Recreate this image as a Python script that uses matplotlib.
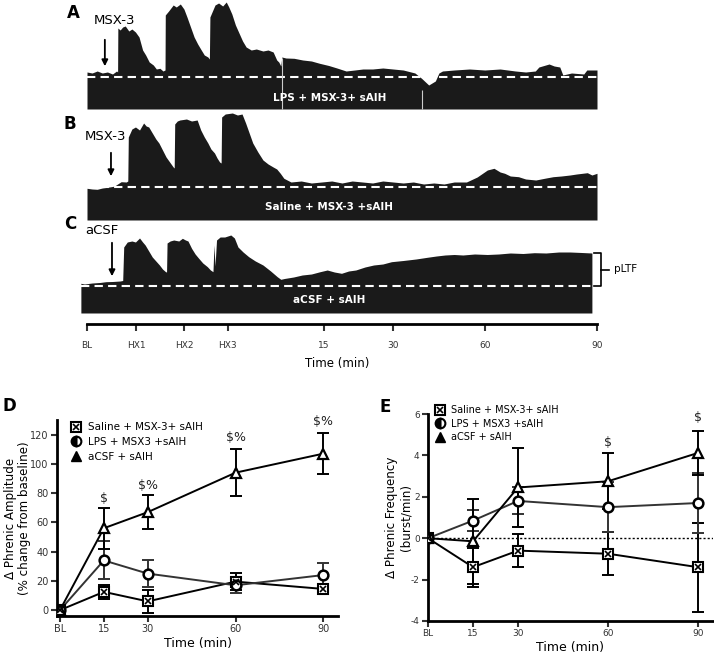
import matplotlib
matplotlib.use('Agg')
import matplotlib.pyplot as plt
from matplotlib.lines import Line2D

W, H = 714, 656
plt.rcParams['axes.unicode_minus'] = False

# ---- raw phrenic traces: x = % of recording (BL..90 min), y = px above baseline ----
trace_a_x = [0, 1, 2, 3, 4, 5, 5.8, 6.0, 6.05, 6.5, 7.0, 7.5, 8.2, 8.8, 9.5, 10.2, 10.9, 11.5, 12.2, 13.0,
             13.6, 14.3, 14.9, 15.3, 15.35, 16.0, 16.9, 17.5, 18.3, 19.0, 19.6, 20.3, 21.0, 21.7, 22.4,
             23.0, 23.7, 24.0, 24.1, 24.6, 25.1, 25.8, 26.6, 27.3, 27.8, 28.4, 29.1, 29.8, 30.5, 31.2,
             32.2, 33.2, 34.5, 35.5, 36.5, 37.2, 37.6, 38.0, 38.2, 39.0, 40.6, 42.3, 44.0, 45.6, 47.4,
             49.0, 50.8, 52.5, 54.1, 56, 58, 60, 62, 64.3, 65.6, 67.0, 68.3, 69.0, 69.7, 72, 75, 78, 81,
             84, 86, 87.9, 88.6, 90.6, 91.6, 92.7, 93.3, 95, 97.4, 98, 100]
trace_a_y = [5, 4, 6, 4, 5, 3, 6, 5, 49, 47, 50, 51, 46, 48, 45, 40, 27, 22, 15, 12,
             8, 8.7, 6, 7, 62, 66, 72, 70, 73, 68, 60, 50, 40, 33, 27,
             22, 20, 18, 60, 66, 72, 74, 71, 75, 70, 63, 52, 44, 36, 30,
             27, 28, 26, 27, 25, 17, 15, 11, 20, 19, 18.7, 17, 16, 13.7, 11.5,
             9, 6, 7, 8, 8, 9, 8, 7, 4, -1.3, -8, -4, 4, 6, 7, 8, 7, 8,
             6, 5, 6, 10, 13, 11, 10, 2, 4, 3, 7, 7]

trace_b_x = [0, 1, 2, 3, 4, 5, 5.4, 6.0, 6.7, 7.7, 8.0, 8.1, 8.8, 9.5, 10.3, 11.1, 11.6, 12.1, 12.8, 13.5,
             14.1, 14.8, 15.5, 16.2, 16.9, 17.1, 17.2, 17.7, 18.2, 19.5, 20.5, 21.6, 22.3, 23.0, 23.7,
             24.3, 25.0, 25.5, 26.0, 26.3, 26.4, 27.1, 28.5, 29.5, 30.4, 31.1, 31.8, 32.5, 33.5, 34.5,
             35.5, 36.5, 37.2, 37.9, 38.6, 40, 42, 44, 46, 48, 50, 52, 54, 56, 58, 60, 62, 64, 66, 68,
             70, 72, 74.4, 76.5, 78.5, 79.8, 81, 81.9, 83, 84.6, 86, 88.0, 90, 91.4, 93, 94.7, 96, 98.1,
             99, 100]
trace_b_y = [-1.3, -2, -2.3, -1, -0.3, 0.5, 1, 3, 5.3, 5, 6, 50, 58, 60, 57, 64, 61, 60, 54, 48,
             44, 37, 30, 25, 20, 19, 63, 66, 67, 68, 66, 67, 57, 50, 44,
             38, 34, 29, 25, 24, 70, 73, 74, 72, 73, 64, 54, 44, 35, 27,
             23, 20, 18, 13.7, 8.7, 5, 6, 4, 5, 6, 4, 6, 5, 4, 6, 5, 4, 5, 3, 4,
             3, 5, 5, 10, 17, 18.7, 15, 13.7, 11, 10.3, 8, 7, 9, 10.3, 11, 12, 13, 14.3,
             12, 13.7]

trace_c_x = [-1.2, -0.5, 1, 2.5, 3.7, 5, 6.5, 7.0, 7.2, 7.9, 8.8, 9.5, 10.3, 10.9, 11.4, 12.1, 12.8, 13.5,
             14.2, 14.8, 15.4, 15.6, 15.7, 16.3, 17.0, 18.0, 18.7, 19.3, 19.8, 20.5, 21.2, 21.9, 22.7,
             23.6, 24.2, 24.7, 24.9, 25.1, 25.4, 26.1, 27.0, 28.2, 28.9, 29.6, 30.6, 31.7, 33.0, 34.5,
             36.0, 37.3, 38.0, 38.7, 40.5, 42.2, 44, 45.7, 47.1, 48.5, 49.9, 51.3, 52.7, 54.5, 56.2, 58,
             59.7, 62, 64.5, 66.7, 68.5, 70.2, 72, 73.7, 76, 78.5, 80.7, 83, 85.5, 87.7, 90, 92.5, 94.7,
             97, 99.0]
trace_c_y = [2.7, 2, 3, 3.5, 4.3, 4.5, 5, 5.5, 39, 44, 45, 44, 48, 44, 41, 35, 29, 25,
             21, 17, 14.3, 14, 43, 45, 46, 45, 47.7, 46, 45, 37.7, 32, 27.7, 23,
             19.3, 16, 14.3, 41, 20, 46, 49, 49, 51, 48, 39, 34, 29.3, 25, 21,
             15, 9.3, 6.7, 7.5, 9, 11, 12, 14.3, 16, 14, 12.7, 15, 16, 19, 21, 22,
             24.3, 25.5, 27, 28.7, 30, 31, 31.5, 31, 32, 31.5, 32, 33, 32.5, 33.3, 33, 34, 34,
             33.5, 33]

trace_ticks = [0, 9.6, 19.0, 27.6, 46.5, 60.0, 78.0, 100]
trace_tick_labels = ['BL', 'HX1', 'HX2', 'HX3', '15', '30', '60', '90']

# ---- summary data ----
time_pts = [0, 15, 30, 60, 90]
time_labels = ['BL', '15', '30', '60', '90']
groups = ['Saline + MSX-3+ sAIH', 'LPS + MSX3 +sAIH', 'aCSF + sAIH']

saline_amp = [0, 12.5, 6, 19.5, 14.5]
saline_amp_err = [0, 5, 8, 6, 3]
lps_amp = [0, 34, 25, 17, 24]
lps_amp_err = [0, 13, 9, 5, 8]
acsf_amp = [0, 56, 67, 94, 107]
acsf_amp_err = [0, 14, 11.5, 16, 14]
amp_sig = ['', '$', '$%', '$%', '$%']
amp_sig_y = [0, 76, 85.5, 118, 129]

saline_freq = [0, -1.4, -0.6, -0.75, -1.4]
saline_freq_err = [0, 0.95, 0.8, 1.05, 2.15]
lps_freq = [0, 0.85, 1.8, 1.5, 1.7]
lps_freq_err = [0, 0.5, 0.65, 1.2, 1.45]
acsf_freq = [0, -0.15, 2.45, 2.75, 4.12]
acsf_freq_err = [0, 2.05, 1.9, 1.35, 1.05]
freq_sig = ['', '', '', '$', '$']
freq_sig_y = [0, 0, 0, 4.6, 5.85]


def px_axes(fig, left, top, right, bottom):
    """Add axes placed by pixel box."""
    return fig.add_axes([left / W, 1 - bottom / H, (right - left) / W, (bottom - top) / H])


def draw_trace(ax, x, y, floor, ylim, block_label, label_y):
    ax.fill_between(x, floor, y, color='#1a1a1a', lw=0)
    ax.hlines(0, x[0], x[-1], colors='white', linestyles=(0, (4, 2.5)), lw=1.5)
    ax.text(47.5, label_y, block_label, color='white', fontsize=7.5, fontweight='bold',
            ha='center', va='center')
    ax.set_xlim(-2, 100)
    ax.set_ylim(*ylim)
    ax.axis('off')


def drug_arrow(ax, x, y0, y1, label, label_x, label_y):
    ax.annotate('', xy=(x, y1), xytext=(x, y0),
                arrowprops=dict(arrowstyle='-|>', color='black', lw=1.3, mutation_scale=9))
    ax.text(label_x, label_y, label, fontsize=9.5, ha='center', va='center')


def summary_panel(ax, series, errs, sig, sig_y, ylim, yticks, ylabel, tick_size):
    colors = ['black', '#333333', 'black']
    for vals, err, c in zip(series, errs, colors):
        ax.errorbar(time_pts, vals, yerr=err, color=c, lw=1.4, capsize=4, capthick=1.4,
                    elinewidth=1.4, zorder=2)
    ax.plot(time_pts, series[0], ls='none', marker='s', ms=7, mfc='white', mec='black', mew=1.5, zorder=3)
    ax.plot(time_pts, series[0], ls='none', marker='x', ms=4.5, mec='black', mew=1.2, zorder=4)
    ax.plot(time_pts, series[1], ls='none', marker='o', ms=7, mfc='white', mec='black', mew=1.8, zorder=3)
    ax.plot(time_pts, series[2], ls='none', marker='^', ms=7.5, mfc='white', mec='black', mew=1.6, zorder=3)
    for t, s, yy in zip(time_pts, sig, sig_y):
        if s:
            ax.text(t, yy, s.replace('$', r'\$'), ha='center', va='center', fontsize=9, color='#222222')
    ax.set_ylim(*ylim)
    ax.set_yticks(yticks)
    ax.set_xticks(time_pts)
    ax.set_xticklabels(time_labels)
    ax.spines['top'].set_visible(False)
    ax.spines['right'].set_visible(False)
    for side in ['left', 'bottom']:
        ax.spines[side].set_linewidth(2)
    ax.tick_params(labelsize=tick_size, length=4, width=1.5, pad=2, colors='#333333')
    ax.set_xlabel('Time (min)', fontsize=9, labelpad=2)
    ax.set_ylabel(ylabel, fontsize=8.6, linespacing=1.15)
    handles = [(Line2D([], [], ls='none', marker='s', ms=7, mfc='white', mec='black', mew=1.5),
                Line2D([], [], ls='none', marker='x', ms=4.5, mec='black', mew=1.2)),
               Line2D([], [], ls='none', marker='o', ms=7, mfc='black', mec='black',
                      fillstyle='left', markerfacecoloralt='white', mew=1.5),
               Line2D([], [], ls='none', marker='^', ms=7, mfc='black', mec='black')]
    return handles


def main():
    fig = plt.figure(figsize=(W / 100, H / 100), dpi=100)

    # Panels A-C: raw traces
    ax_a = px_axes(fig, 76.8, 0, 597, 110)
    draw_trace(ax_a, trace_a_x, trace_a_y, -32, (-33, 77), 'LPS + MSX-3+ sAIH', -21)
    ax_a.vlines([38.2, 65.7], [-32, -32], [19, -13], colors='#cccccc', lw=0.8)
    drug_arrow(ax_a, 3.5, 40, 8, 'MSX-3', 5.3, 57)

    ax_b = px_axes(fig, 76.8, 110, 597, 222)
    draw_trace(ax_b, trace_b_x, trace_b_y, -33, (-35, 77), 'Saline + MSX-3 +sAIH', -20)
    drug_arrow(ax_b, 4.7, 37, 8, 'MSX-3', 3.6, 50)

    ax_c = px_axes(fig, 76.8, 220, 597, 316)
    draw_trace(ax_c, trace_c_x, trace_c_y, -27, (-30, 66), 'aCSF + sAIH', -14)
    drug_arrow(ax_c, 4.9, 46, 7, 'aCSF', 3.0, 56)
    ax_c.plot([99.4, 100.8, 100.8, 99.4], [33, 33, 0, 0], color='black', lw=1.2, clip_on=False)
    ax_c.plot([100.8, 102.3], [16.5, 16.5], color='black', lw=1.2, clip_on=False)
    ax_c.text(103.3, 16.5, 'pLTF', fontsize=7.5, va='center', ha='left')

    for letter, x, y in [('A', 73, 13), ('B', 70, 124), ('C', 70, 224)]:
        fig.text(x / W, 1 - y / H, letter, fontsize=12, fontweight='bold', ha='center', va='center')

    ax_t = px_axes(fig, 76.8, 300, 597, 324)
    ax_t.set_xlim(-2, 100)
    for side in ['left', 'right', 'top']:
        ax_t.spines[side].set_visible(False)
    ax_t.spines['bottom'].set_bounds(0, 100)
    ax_t.spines['bottom'].set_linewidth(2)
    ax_t.set_yticks([])
    ax_t.set_xticks(trace_ticks)
    ax_t.set_xticklabels(trace_tick_labels)
    ax_t.tick_params(axis='x', length=5, width=1.5, pad=7, labelsize=6.5, colors='#333333')
    ax_t.set_xlabel('Time (min)', fontsize=8.5, labelpad=5)
    ax_t.patch.set_alpha(0)

    # Panel D: amplitude
    ax_d = px_axes(fig, 57, 420, 338, 616)
    handles = summary_panel(ax_d, [saline_amp, lps_amp, acsf_amp],
                            [saline_amp_err, lps_amp_err, acsf_amp_err],
                            amp_sig, amp_sig_y, (-4, 130), range(0, 121, 20),
                            '\u0394 Phrenic Amplitude\n(% change from baseline)', 7)
    ax_d.set_xlim(-1, 95)
    ax_d.yaxis.set_label_coords(-0.092, 0.5)
    ax_d.legend(handles, groups, loc='upper left', bbox_to_anchor=(0.036, 1.01), frameon=False,
                fontsize=7.5, handlelength=1.0, handletextpad=0.6, labelspacing=0.45, borderaxespad=0)
    fig.text(9 / W, 1 - 406 / H, 'D', fontsize=12, fontweight='bold', ha='center', va='center')

    # Panel E: frequency
    ax_e = px_axes(fig, 428, 414, 713, 621)
    handles = summary_panel(ax_e, [saline_freq, lps_freq, acsf_freq],
                            [saline_freq_err, lps_freq_err, acsf_freq_err],
                            freq_sig, freq_sig_y, (-4, 6), range(-4, 7, 2),
                            '\u0394 Phrenic Frequency\n(burst/min)', 6.5)
    ax_e.set_xlim(0, 95)
    ax_e.yaxis.set_label_coords(-0.055, 0.5)
    ax_e.axhline(0, color='black', lw=1, ls=(0, (1.5, 1.5)), zorder=1)
    ax_e.legend(handles, groups, loc='upper left', bbox_to_anchor=(0.011, 1.06), frameon=False,
                fontsize=7, handlelength=1.0, handletextpad=0.6, labelspacing=0.35, borderaxespad=0)
    fig.text(385 / W, 1 - 407 / H, 'E', fontsize=12, fontweight='bold', ha='center', va='center')

    fig.savefig('out.png', dpi=100)


if __name__ == '__main__':
    main()
